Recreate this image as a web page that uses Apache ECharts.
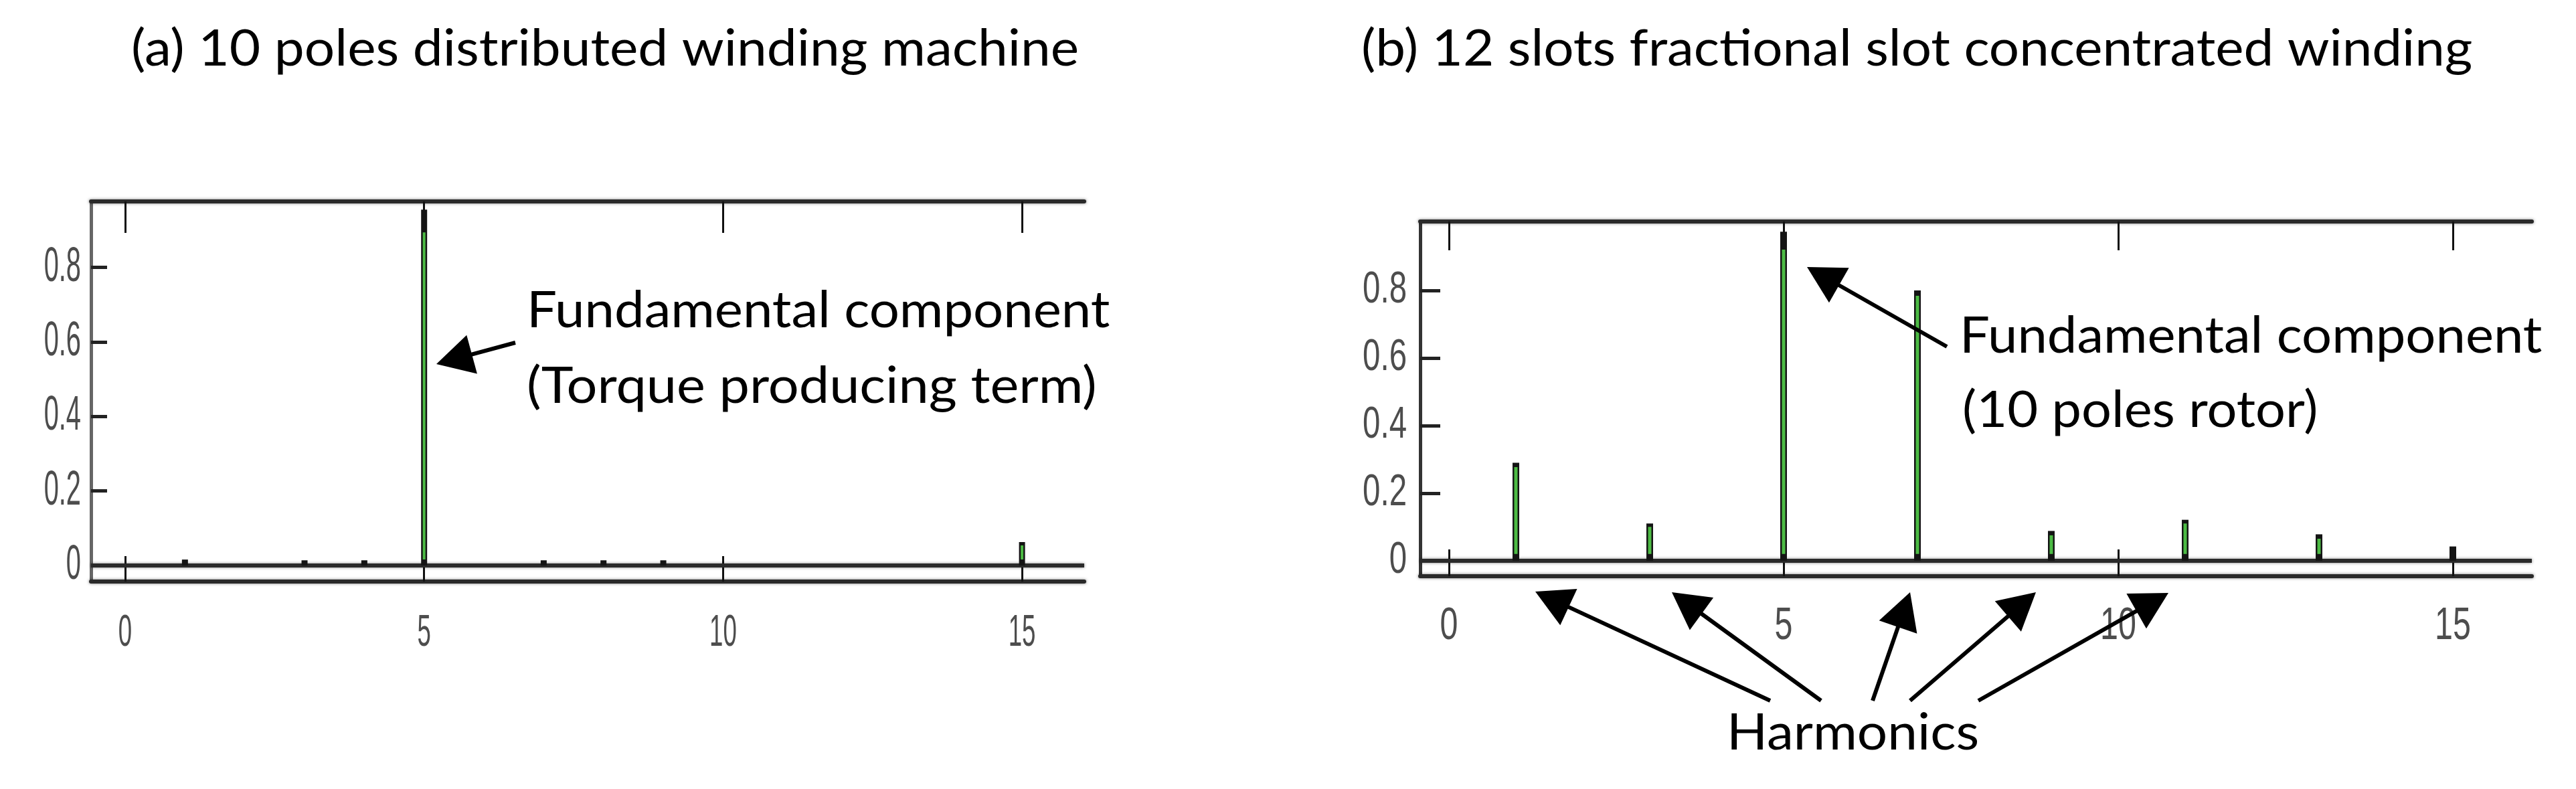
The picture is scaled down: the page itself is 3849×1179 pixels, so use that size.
<!DOCTYPE html>
<html><head><meta charset="utf-8">
<script src="https://cdn.jsdelivr.net/npm/echarts@6/dist/echarts.min.js"></script>
<style>html,body{margin:0;padding:0;background:#fff}#c{width:3849px;height:1179px}</style>
</head><body><div id="c"></div>
<script>
// ---------------- data ----------------
const harmonicsA = [1, 3, 4, 5, 7, 8, 9, 15];
const amplitudeA = [0.016, 0.014, 0.014, 0.955, 0.014, 0.014, 0.014, 0.063];
const greenTopA  = [0, 0, 0, 0.894, 0, 0, 0, 0.054];

const harmonicsB = [1, 3, 5, 7, 9, 11, 13, 15];
const amplitudeB = [0.29, 0.11, 0.974, 0.80, 0.088, 0.121, 0.078, 0.042];
const greenTopB  = [0.277, 0.10, 0.921, 0.784, 0.075, 0.11, 0.065, 0];

const xTicks = [0, 5, 10, 15];
const xTickLabels = ['0', '5', '10', '15'];
const yTicks = [0, 0.2, 0.4, 0.6, 0.8];
const yTickLabels = ['0', '0.2', '0.4', '0.6', '0.8'];

const titleA = '(a) 10 poles distributed winding machine';
const titleB = '(b) 12 slots fractional slot concentrated winding';
const noteA1 = 'Fundamental component';
const noteA2 = '(Torque producing term)';
const noteB1 = 'Fundamental component';
const noteB2 = '(10 poles rotor)';
const noteH = 'Harmonics';

// ---------------- style ----------------
const GREEN = '#4cbb44';
const heavy = {color: '#2a2a2a', width: 6, shadowColor: 'rgba(0,0,0,0.5)', shadowBlur: 4};
const TEXT_FONT = 'Lato';
const NUM_FONT = 'Liberation Sans';
const NUM_COLOR = '#4d4d4d';

const panels = [
  {grid: {left: 136, top: 301, width: 1484, height: 568}, xMin: -0.571, xMax: 16.04, yMin: -0.043, yMax: 0.977,
   topTick: 47, botTick: 38, yTick: 24, yLine: '#666666', stemW: 9, greenW: 4, cap: 9,
   h: harmonicsA, v: amplitudeA, g: greenTopA},
  {grid: {left: 2122, top: 331, width: 1661, height: 530}, xMin: -0.43, xMax: 16.18, yMin: -0.046, yMax: 1.004,
   topTick: 43, botTick: 40, yTick: 30, yLine: '#333333', stemW: 10, greenW: 5, cap: 10,
   h: harmonicsB, v: amplitudeB, g: greenTopB}
];

const grids = [], xAxes = [], yAxes = [], series = [];
panels.forEach((p, i) => {
  grids.push(Object.assign({show: false}, p.grid));
  const tick = (len) => ({show: true, inside: true, length: len, customValues: xTicks, lineStyle: {color: '#111', width: 3}});
  xAxes.push({type: 'value', gridIndex: i, position: 'bottom', min: p.xMin, max: p.xMax,
    axisLine: {show: true, onZero: false, lineStyle: heavy}, axisTick: tick(p.botTick),
    axisLabel: {show: false}, splitLine: {show: false}});
  xAxes.push({type: 'value', gridIndex: i, position: 'top', min: p.xMin, max: p.xMax,
    axisLine: {show: true, onZero: false, lineStyle: heavy}, axisTick: tick(p.topTick),
    axisLabel: {show: false}, splitLine: {show: false}});
  yAxes.push({type: 'value', gridIndex: i, min: p.yMin, max: p.yMax,
    axisLine: {show: true, onZero: false, lineStyle: {color: p.yLine, width: 5}},
    axisTick: {show: true, inside: true, length: p.yTick, customValues: yTicks, lineStyle: {color: '#222', width: 5}},
    axisLabel: {show: false}, splitLine: {show: false}});
  series.push({
    type: 'line', xAxisIndex: i * 2, yAxisIndex: i, data: [], silent: true,
    markLine: {silent: true, symbol: ['none', 'none'], label: {show: false}, animation: false,
      lineStyle: {color: '#2a2a2a', width: 6, type: 'solid', shadowColor: 'rgba(0,0,0,0.5)', shadowBlur: 4},
      data: [{yAxis: 0}]}
  });
  series.push({
    type: 'custom', xAxisIndex: i * 2, yAxisIndex: i, coordinateSystem: 'cartesian2d', z: 5,
    data: p.h.map((h, k) => [h, p.v[k], p.g[k]]),
    encode: {x: 0, y: 1},
    renderItem: function (params, api) {
      const x = api.value(0), v = api.value(1), g = api.value(2);
      const base = api.coord([x, 0]);
      const top = api.coord([x, v]);
      const children = [{type: 'rect', shape: {x: base[0] - p.stemW / 2, y: top[1], width: p.stemW, height: base[1] - top[1]},
        style: {fill: '#141414'}}];
      if (g > 0) {
        const gt = api.coord([x, g]);
        const hgt = base[1] - p.cap - gt[1];
        if (hgt > 0) children.push({type: 'rect', shape: {x: base[0] - p.greenW / 2, y: gt[1], width: p.greenW, height: hgt},
          style: {fill: GREEN}});
      }
      return {type: 'group', children};
    }
  });
});

const chart = echarts.init(document.getElementById('c'), null, {renderer: 'canvas'});
chart.setOption({animation: false, backgroundColor: '#ffffff', grid: grids, xAxis: xAxes, yAxis: yAxes, series});

// ---------------- text & arrows ----------------
const mctx = document.createElement('canvas').getContext('2d');
function measure(txt, family, capH) {
  mctx.textBaseline = 'middle';
  mctx.font = 'normal normal 100px ' + family;
  const h = mctx.measureText('H');
  const size = 100 * capH / (h.actualBoundingBoxAscent + h.actualBoundingBoxDescent);
  mctx.font = 'normal normal ' + size + 'px ' + family;
  const m = mctx.measureText(txt);
  const h2 = mctx.measureText('H');
  return {size, mid: h2.actualBoundingBoxDescent, ink: m.actualBoundingBoxLeft + m.actualBoundingBoxRight};
}
function textEl(txt, x, baseline, capH, opt) {
  const f = measure(txt, opt.family, capH);
  const sx = opt.width ? opt.width / f.ink : (opt.scale || 1);
  return {type: 'text', x: x, y: baseline - f.mid, scaleX: sx, z: 20,
    style: {text: txt, fontSize: f.size, fontFamily: opt.family, fill: opt.color || '#000',
      align: opt.align || 'left', verticalAlign: 'middle'}};
}
function arrow(x1, y1, x2, y2) {
  const L = 55, W = 60;
  const dx = x2 - x1, dy = y2 - y1, len = Math.hypot(dx, dy);
  const ux = dx / len, uy = dy / len, px = -uy, py = ux;
  const bx = x2 - ux * L, by = y2 - uy * L;
  return [
    {type: 'line', z: 20, shape: {x1, y1, x2: bx + ux * 6, y2: by + uy * 6}, style: {stroke: '#000', lineWidth: 6}},
    {type: 'polygon', z: 20, shape: {points: [[x2, y2], [bx + px * W / 2, by + py * W / 2], [bx - px * W / 2, by - py * W / 2]]},
      style: {fill: '#000'}}
  ];
}

const gfx = [];
gfx.push(textEl(titleA, 196, 98, 55, {family: TEXT_FONT, width: 1410}));
gfx.push(textEl(titleB, 2034, 98, 55, {family: TEXT_FONT, width: 1656}));
gfx.push(textEl(noteA1, 787, 489, 55, {family: TEXT_FONT, width: 865}));
gfx.push(textEl(noteA2, 787, 602, 55, {family: TEXT_FONT, width: 845}));
gfx.push(textEl(noteB1, 2928, 527, 55, {family: TEXT_FONT, width: 864}));
gfx.push(textEl(noteB2, 2932, 638, 55, {family: TEXT_FONT, width: 525}));
gfx.push(textEl(noteH, 2580, 1120, 55, {family: TEXT_FONT, width: 368}));

// tick labels (positions from the axes' own scales)
const labelCfg = [
  {yLabelRight: 121, yCap: 50, yRefW: 53, xBase: 965, xCap: 46},
  {yLabelRight: 2102, yCap: 46, yRefW: 63, xBase: 955, xCap: 47}
];
labelCfg.forEach((c, i) => {
  const ref = measure('0.8', NUM_FONT, c.yCap);
  const sx = c.yRefW / ref.ink;
  yTicks.forEach((v, k) => {
    const py = chart.convertToPixel({yAxisIndex: i}, v);
    const f = measure(yTickLabels[k], NUM_FONT, c.yCap);
    gfx.push(textEl(yTickLabels[k], c.yLabelRight, py + f.mid, c.yCap, {family: NUM_FONT, scale: sx, align: 'right', color: NUM_COLOR}));
  });
  xTicks.forEach((v, k) => {
    const px = chart.convertToPixel({xAxisIndex: i * 2}, v);
    gfx.push(textEl(xTickLabels[k], px, c.xBase, c.xCap, {family: NUM_FONT, scale: sx, align: 'center', color: NUM_COLOR}));
  });
});

gfx.push(...arrow(770, 512, 652, 544));
gfx.push(...arrow(2909, 518, 2700, 399));
gfx.push(...arrow(2645, 1047, 2294, 884));
gfx.push(...arrow(2721, 1047, 2498, 885));
gfx.push(...arrow(2798, 1047, 2854, 885));
gfx.push(...arrow(2854, 1047, 3042, 885));
gfx.push(...arrow(2956, 1047, 3240, 886));

chart.setOption({graphic: gfx});
</script></body></html>
